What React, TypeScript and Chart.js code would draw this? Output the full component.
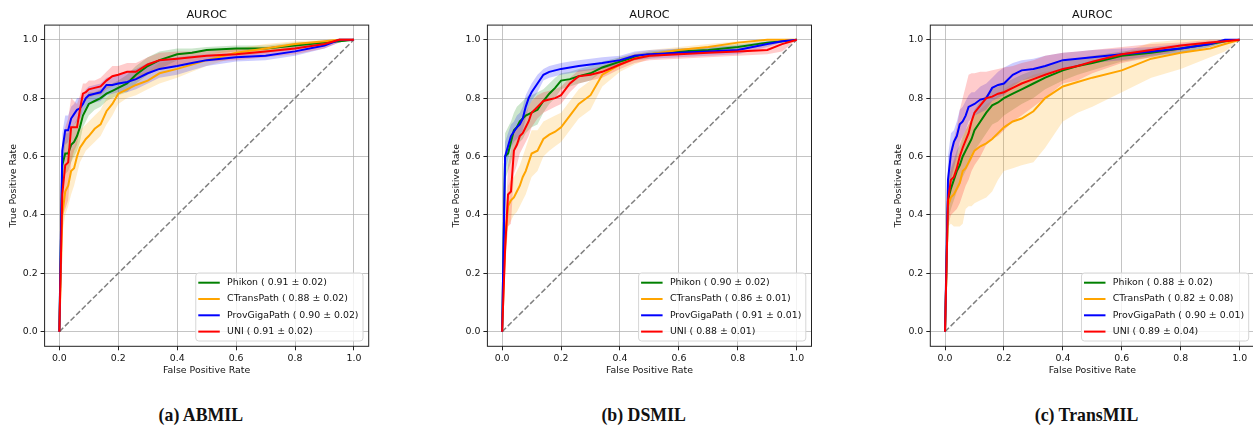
import { useEffect, useRef } from 'react';
import { Chart, registerables } from 'chart.js';

Chart.register(...registerables);

// ---------- data ----------
const FPR = [0, 0.01, 0.02, 0.03, 0.04, 0.05, 0.06, 0.07, 0.08, 0.09, 0.10, 0.12, 0.14, 0.16, 0.18, 0.20, 0.23, 0.26, 0.30, 0.34, 0.40, 0.45, 0.50, 0.60, 0.70, 0.80, 0.90, 0.95, 1.0];
const TICKS = [0, 0.2, 0.4, 0.6, 0.8, 1.0];
const MODELS = ['Phikon', 'CTransPath', 'ProvGigaPath', 'UNI'];
const CAPTIONS = ['(a) ABMIL', '(b) DSMIL', '(c) TransMIL'];

const ABMIL_AUC = [0.91, 0.88, 0.90, 0.91];
const ABMIL_STD = [0.02, 0.02, 0.02, 0.02];
const DSMIL_AUC = [0.90, 0.86, 0.91, 0.88];
const DSMIL_STD = [0.02, 0.01, 0.01, 0.01];
const TRANSMIL_AUC = [0.88, 0.82, 0.90, 0.89];
const TRANSMIL_STD = [0.02, 0.08, 0.01, 0.04];

// ABMIL
const ABMIL_PHIKON = [0, 0.57, 0.61, 0.61, 0.64, 0.65, 0.67, 0.70, 0.74, 0.76, 0.78, 0.79, 0.80, 0.815, 0.825, 0.835, 0.85, 0.88, 0.91, 0.93, 0.95, 0.955, 0.965, 0.97, 0.97, 0.98, 0.99, 0.995, 1.0];
const ABMIL_PHIKON_LO = [0, 0.50, 0.54, 0.55, 0.58, 0.60, 0.62, 0.65, 0.70, 0.72, 0.74, 0.76, 0.77, 0.79, 0.80, 0.81, 0.82, 0.85, 0.88, 0.90, 0.93, 0.94, 0.95, 0.96, 0.96, 0.97, 0.985, 0.99, 1.0];
const ABMIL_PHIKON_HI = [0, 0.64, 0.68, 0.68, 0.70, 0.71, 0.73, 0.76, 0.78, 0.80, 0.82, 0.82, 0.83, 0.84, 0.85, 0.86, 0.88, 0.91, 0.94, 0.96, 0.97, 0.97, 0.975, 0.98, 0.98, 0.99, 0.995, 1.0, 1.0];
const ABMIL_CTRANS = [0, 0.40, 0.48, 0.50, 0.55, 0.56, 0.60, 0.63, 0.645, 0.66, 0.67, 0.695, 0.71, 0.755, 0.78, 0.815, 0.83, 0.845, 0.86, 0.885, 0.90, 0.915, 0.93, 0.955, 0.97, 0.985, 0.995, 1.0, 1.0];
const ABMIL_CTRANS_LO = [0, 0.33, 0.40, 0.43, 0.47, 0.50, 0.54, 0.58, 0.60, 0.62, 0.63, 0.65, 0.67, 0.71, 0.74, 0.78, 0.80, 0.81, 0.83, 0.85, 0.87, 0.89, 0.91, 0.94, 0.955, 0.975, 0.99, 0.995, 1.0];
const ABMIL_CTRANS_HI = [0, 0.47, 0.56, 0.58, 0.62, 0.63, 0.66, 0.69, 0.70, 0.71, 0.72, 0.74, 0.76, 0.80, 0.82, 0.85, 0.86, 0.88, 0.89, 0.92, 0.93, 0.94, 0.95, 0.97, 0.985, 0.995, 1.0, 1.0, 1.0];
const ABMIL_PROV = [0, 0.62, 0.69, 0.69, 0.73, 0.745, 0.76, 0.765, 0.78, 0.80, 0.81, 0.815, 0.82, 0.845, 0.845, 0.85, 0.855, 0.865, 0.885, 0.90, 0.91, 0.92, 0.93, 0.94, 0.945, 0.96, 0.98, 1.0, 1.0];
const ABMIL_PROV_LO = [0, 0.56, 0.64, 0.65, 0.69, 0.71, 0.72, 0.73, 0.75, 0.77, 0.78, 0.785, 0.79, 0.81, 0.815, 0.82, 0.82, 0.83, 0.85, 0.87, 0.88, 0.895, 0.91, 0.925, 0.93, 0.945, 0.97, 0.99, 1.0];
const ABMIL_PROV_HI = [0, 0.68, 0.74, 0.74, 0.77, 0.78, 0.80, 0.80, 0.81, 0.83, 0.84, 0.845, 0.85, 0.87, 0.875, 0.88, 0.89, 0.90, 0.92, 0.93, 0.94, 0.945, 0.95, 0.955, 0.96, 0.975, 0.99, 1.0, 1.0];
const ABMIL_UNI = [0, 0.47, 0.57, 0.58, 0.70, 0.70, 0.70, 0.76, 0.815, 0.82, 0.83, 0.835, 0.84, 0.86, 0.875, 0.88, 0.89, 0.89, 0.915, 0.93, 0.935, 0.94, 0.945, 0.95, 0.96, 0.97, 0.985, 1.0, 1.0];
const ABMIL_UNI_LO = [0, 0.39, 0.42, 0.45, 0.58, 0.62, 0.64, 0.71, 0.78, 0.79, 0.80, 0.81, 0.81, 0.83, 0.84, 0.85, 0.86, 0.86, 0.89, 0.90, 0.91, 0.92, 0.925, 0.93, 0.94, 0.95, 0.97, 0.99, 1.0];
const ABMIL_UNI_HI = [0, 0.55, 0.70, 0.73, 0.80, 0.79, 0.78, 0.81, 0.85, 0.85, 0.86, 0.86, 0.87, 0.89, 0.91, 0.91, 0.92, 0.92, 0.94, 0.955, 0.96, 0.96, 0.965, 0.97, 0.975, 0.985, 0.995, 1.0, 1.0];

// DSMIL
const DSMIL_PHIKON = [0, 0.60, 0.61, 0.65, 0.69, 0.70, 0.72, 0.73, 0.74, 0.745, 0.75, 0.76, 0.79, 0.815, 0.835, 0.86, 0.865, 0.875, 0.885, 0.905, 0.925, 0.94, 0.95, 0.96, 0.965, 0.975, 0.99, 0.995, 1.0];
const DSMIL_PHIKON_LO = [0, 0.52, 0.55, 0.58, 0.62, 0.63, 0.65, 0.66, 0.68, 0.69, 0.70, 0.71, 0.75, 0.78, 0.80, 0.83, 0.84, 0.85, 0.86, 0.89, 0.91, 0.93, 0.94, 0.95, 0.955, 0.965, 0.98, 0.99, 1.0];
const DSMIL_PHIKON_HI = [0, 0.68, 0.70, 0.72, 0.75, 0.77, 0.78, 0.79, 0.80, 0.81, 0.81, 0.82, 0.83, 0.85, 0.87, 0.885, 0.89, 0.90, 0.91, 0.925, 0.94, 0.95, 0.96, 0.97, 0.975, 0.985, 0.995, 1.0, 1.0];
const DSMIL_CTRANS = [0, 0.30, 0.43, 0.45, 0.46, 0.48, 0.50, 0.53, 0.55, 0.58, 0.61, 0.62, 0.66, 0.675, 0.685, 0.70, 0.74, 0.78, 0.81, 0.88, 0.915, 0.935, 0.95, 0.965, 0.975, 0.99, 1.0, 1.0, 1.0];
const DSMIL_CTRANS_LO = [0, 0.22, 0.36, 0.38, 0.40, 0.41, 0.43, 0.45, 0.47, 0.50, 0.53, 0.55, 0.60, 0.62, 0.635, 0.65, 0.69, 0.73, 0.76, 0.84, 0.89, 0.915, 0.935, 0.955, 0.965, 0.98, 0.995, 1.0, 1.0];
const DSMIL_CTRANS_HI = [0, 0.38, 0.50, 0.52, 0.53, 0.55, 0.57, 0.60, 0.63, 0.66, 0.69, 0.69, 0.72, 0.73, 0.74, 0.75, 0.79, 0.83, 0.86, 0.91, 0.94, 0.955, 0.965, 0.975, 0.985, 0.995, 1.0, 1.0, 1.0];
const DSMIL_PROV = [0, 0.60, 0.635, 0.67, 0.685, 0.70, 0.71, 0.73, 0.77, 0.80, 0.82, 0.85, 0.88, 0.89, 0.895, 0.90, 0.905, 0.91, 0.915, 0.92, 0.93, 0.945, 0.95, 0.955, 0.96, 0.965, 0.985, 0.995, 1.0];
const DSMIL_PROV_LO = [0, 0.55, 0.59, 0.63, 0.65, 0.66, 0.67, 0.69, 0.73, 0.77, 0.79, 0.82, 0.86, 0.87, 0.875, 0.88, 0.885, 0.89, 0.895, 0.90, 0.915, 0.93, 0.935, 0.94, 0.945, 0.95, 0.975, 0.99, 1.0];
const DSMIL_PROV_HI = [0, 0.65, 0.68, 0.71, 0.72, 0.74, 0.75, 0.77, 0.81, 0.83, 0.85, 0.88, 0.90, 0.91, 0.915, 0.92, 0.925, 0.93, 0.935, 0.94, 0.945, 0.96, 0.965, 0.97, 0.975, 0.98, 0.995, 1.0, 1.0];
const DSMIL_UNI = [0, 0.28, 0.47, 0.48, 0.62, 0.64, 0.67, 0.68, 0.70, 0.72, 0.75, 0.77, 0.79, 0.795, 0.80, 0.81, 0.85, 0.875, 0.88, 0.89, 0.915, 0.935, 0.945, 0.95, 0.955, 0.96, 0.965, 0.985, 1.0];
const DSMIL_UNI_LO = [0, 0.22, 0.36, 0.37, 0.54, 0.57, 0.61, 0.63, 0.65, 0.67, 0.70, 0.73, 0.75, 0.76, 0.77, 0.78, 0.82, 0.85, 0.86, 0.87, 0.90, 0.92, 0.93, 0.935, 0.94, 0.945, 0.95, 0.96, 1.0];
const DSMIL_UNI_HI = [0, 0.36, 0.57, 0.62, 0.69, 0.70, 0.72, 0.73, 0.75, 0.77, 0.79, 0.81, 0.82, 0.825, 0.83, 0.84, 0.87, 0.895, 0.90, 0.91, 0.93, 0.95, 0.955, 0.96, 0.965, 0.97, 0.98, 0.995, 1.0];

// TransMIL
const TRANSMIL_PHIKON = [0, 0.45, 0.49, 0.52, 0.55, 0.57, 0.60, 0.62, 0.64, 0.66, 0.69, 0.72, 0.75, 0.775, 0.785, 0.80, 0.815, 0.83, 0.85, 0.87, 0.895, 0.91, 0.92, 0.945, 0.955, 0.97, 0.985, 0.995, 1.0];
const TRANSMIL_PHIKON_LO = [0, 0.38, 0.42, 0.45, 0.48, 0.50, 0.53, 0.55, 0.57, 0.59, 0.62, 0.65, 0.68, 0.71, 0.72, 0.74, 0.76, 0.78, 0.80, 0.83, 0.86, 0.88, 0.895, 0.925, 0.94, 0.955, 0.975, 0.99, 1.0];
const TRANSMIL_PHIKON_HI = [0, 0.52, 0.56, 0.59, 0.62, 0.64, 0.67, 0.69, 0.71, 0.73, 0.76, 0.79, 0.81, 0.83, 0.84, 0.85, 0.865, 0.88, 0.895, 0.91, 0.925, 0.935, 0.945, 0.96, 0.97, 0.98, 0.99, 1.0, 1.0];
const TRANSMIL_CTRANS = [0, 0.43, 0.46, 0.47, 0.49, 0.51, 0.55, 0.56, 0.58, 0.60, 0.62, 0.635, 0.645, 0.66, 0.68, 0.70, 0.72, 0.73, 0.755, 0.80, 0.84, 0.855, 0.87, 0.895, 0.935, 0.955, 0.97, 0.985, 1.0];
const TRANSMIL_CTRANS_LO = [0, 0.36, 0.37, 0.36, 0.36, 0.36, 0.37, 0.42, 0.43, 0.43, 0.44, 0.45, 0.46, 0.48, 0.52, 0.55, 0.56, 0.57, 0.58, 0.63, 0.72, 0.75, 0.77, 0.82, 0.87, 0.90, 0.94, 0.96, 1.0];
const TRANSMIL_CTRANS_HI = [0, 0.50, 0.55, 0.58, 0.60, 0.62, 0.66, 0.69, 0.71, 0.73, 0.74, 0.76, 0.78, 0.79, 0.81, 0.83, 0.85, 0.86, 0.88, 0.89, 0.90, 0.91, 0.925, 0.955, 0.99, 1.0, 1.0, 1.0, 1.0];
const TRANSMIL_PROV = [0, 0.52, 0.61, 0.65, 0.67, 0.71, 0.72, 0.74, 0.77, 0.775, 0.78, 0.795, 0.80, 0.835, 0.845, 0.85, 0.88, 0.895, 0.90, 0.91, 0.93, 0.935, 0.94, 0.95, 0.96, 0.97, 0.985, 1.0, 1.0];
const TRANSMIL_PROV_LO = [0, 0.44, 0.52, 0.56, 0.60, 0.65, 0.67, 0.69, 0.72, 0.73, 0.74, 0.75, 0.76, 0.79, 0.80, 0.81, 0.84, 0.86, 0.87, 0.88, 0.90, 0.91, 0.92, 0.93, 0.945, 0.955, 0.975, 0.99, 1.0];
const TRANSMIL_PROV_HI = [0, 0.60, 0.68, 0.69, 0.72, 0.76, 0.77, 0.79, 0.81, 0.82, 0.82, 0.84, 0.85, 0.87, 0.89, 0.905, 0.92, 0.93, 0.935, 0.945, 0.955, 0.96, 0.965, 0.97, 0.975, 0.985, 0.995, 1.0, 1.0];
const TRANSMIL_UNI = [0, 0.45, 0.52, 0.53, 0.56, 0.60, 0.63, 0.655, 0.68, 0.72, 0.75, 0.775, 0.80, 0.805, 0.815, 0.82, 0.835, 0.85, 0.865, 0.88, 0.90, 0.91, 0.925, 0.95, 0.965, 0.98, 0.99, 0.995, 1.0];
const TRANSMIL_UNI_LO = [0, 0.36, 0.40, 0.41, 0.42, 0.44, 0.47, 0.50, 0.52, 0.55, 0.57, 0.60, 0.64, 0.66, 0.67, 0.69, 0.72, 0.74, 0.77, 0.80, 0.85, 0.86, 0.885, 0.92, 0.94, 0.965, 0.98, 0.99, 1.0];
const TRANSMIL_UNI_HI = [0, 0.55, 0.63, 0.66, 0.70, 0.76, 0.80, 0.84, 0.88, 0.885, 0.885, 0.89, 0.89, 0.895, 0.90, 0.905, 0.91, 0.92, 0.93, 0.945, 0.955, 0.96, 0.965, 0.975, 0.985, 0.99, 1.0, 1.0, 1.0];

// ---------- styling ----------
const COLORS = ['#008000', '#ffa500', '#0000ff', '#ff0000'];
const BAND_COLORS = ['rgba(0,128,0,0.2)', 'rgba(255,165,0,0.2)', 'rgba(0,0,255,0.2)', 'rgba(255,0,0,0.2)'];
const FONT = '"DejaVu Sans", sans-serif';
const FS = 9.4;

const PANELS = [
  { caption: CAPTIONS[0], auc: ABMIL_AUC, std: ABMIL_STD,
    mean: [ABMIL_PHIKON, ABMIL_CTRANS, ABMIL_PROV, ABMIL_UNI],
    lo: [ABMIL_PHIKON_LO, ABMIL_CTRANS_LO, ABMIL_PROV_LO, ABMIL_UNI_LO],
    hi: [ABMIL_PHIKON_HI, ABMIL_CTRANS_HI, ABMIL_PROV_HI, ABMIL_UNI_HI] },
  { caption: CAPTIONS[1], auc: DSMIL_AUC, std: DSMIL_STD,
    mean: [DSMIL_PHIKON, DSMIL_CTRANS, DSMIL_PROV, DSMIL_UNI],
    lo: [DSMIL_PHIKON_LO, DSMIL_CTRANS_LO, DSMIL_PROV_LO, DSMIL_UNI_LO],
    hi: [DSMIL_PHIKON_HI, DSMIL_CTRANS_HI, DSMIL_PROV_HI, DSMIL_UNI_HI] },
  { caption: CAPTIONS[2], auc: TRANSMIL_AUC, std: TRANSMIL_STD,
    mean: [TRANSMIL_PHIKON, TRANSMIL_CTRANS, TRANSMIL_PROV, TRANSMIL_UNI],
    lo: [TRANSMIL_PHIKON_LO, TRANSMIL_CTRANS_LO, TRANSMIL_PROV_LO, TRANSMIL_UNI_LO],
    hi: [TRANSMIL_PHIKON_HI, TRANSMIL_CTRANS_HI, TRANSMIL_PROV_HI, TRANSMIL_UNI_HI] },
];

// layout (page pixels)
const CHART_LEFT = [44.6, 487.4, 930.3];
const CANVAS_LEFT = [0, 443, 886];
const CANVAS_W = 400;
const CANVAS_H = 400;
const AREA_W = 324.1;
const AREA_TOP = 25.1;
const AREA_BOTTOM = 346.3;

const pts = (ys: number[]) => ys.map((y, i) => ({ x: FPR[i], y }));

function makeDecor(panel: any) {
  return {
    id: 'decor',
    afterDraw(chart: any) {
      const { ctx, chartArea: a } = chart;
      ctx.save();
      // spines
      ctx.strokeStyle = '#222';
      ctx.lineWidth = 1;
      ctx.strokeRect(a.left, a.top, a.right - a.left, a.bottom - a.top);
      // title
      ctx.fillStyle = '#111';
      ctx.textAlign = 'center';
      ctx.textBaseline = 'middle';
      ctx.font = `${FS * 1.2}px ${FONT}`;
      const cx = (a.left + a.right) / 2;
      ctx.fillText('AUROC', cx, a.top - 10.1);
      ctx.font = `${FS}px ${FONT}`;
      ctx.fillText('False Positive Rate', cx, a.bottom + 24);
      ctx.save();
      ctx.translate(a.left - 31.3, (a.top + a.bottom) / 2);
      ctx.rotate(-Math.PI / 2);
      ctx.fillText('True Positive Rate', 0, 0);
      ctx.restore();
      // legend
      const labels = MODELS.map((m, k) => `${m} ( ${panel.auc[k].toFixed(2)} ± ${panel.std[k].toFixed(2)})`);
      const maxW = Math.max(...labels.map((l) => ctx.measureText(l).width));
      const w = 31.3 + maxW + 4.5;
      const h = 68;
      const right = a.right - 5.7;
      const bottom = a.bottom - 5.3;
      const left = right - w;
      const top = bottom - h;
      ctx.beginPath();
      ctx.roundRect(left, top, w, h, 3);
      ctx.fillStyle = 'rgba(255,255,255,0.8)';
      ctx.fill();
      ctx.strokeStyle = '#d6d6d6';
      ctx.lineWidth = 1;
      ctx.stroke();
      ctx.textAlign = 'left';
      labels.forEach((l, k) => {
        const cy = top + 9.7 + k * 16.3;
        ctx.beginPath();
        ctx.strokeStyle = COLORS[k];
        ctx.lineWidth = 2;
        ctx.moveTo(left + 2.5, cy);
        ctx.lineTo(left + 24, cy);
        ctx.stroke();
        ctx.fillStyle = '#111';
        ctx.fillText(l, left + 31.3, cy);
      });
      ctx.restore();
    },
  };
}

function Panel({ index }: { index: number }) {
  const ref = useRef<HTMLCanvasElement>(null);
  useEffect(() => {
    const panel = PANELS[index];
    const yw = CHART_LEFT[index] - CANVAS_LEFT[index];
    const padRight = CANVAS_W - yw - AREA_W;
    const datasets: any[] = [];
    // bands: lo at even index, hi fills to lo
    const bandOrder = [13, 12, 11, 10];
    for (let k = 0; k < 4; k++) {
      const loIdx = datasets.length;
      datasets.push({
        data: pts(panel.lo[k]), borderWidth: 0, pointRadius: 0, fill: false,
        borderColor: 'rgba(0,0,0,0)', order: bandOrder[k],
      });
      datasets.push({
        data: pts(panel.hi[k]), borderWidth: 0, pointRadius: 0, fill: loIdx,
        borderColor: 'rgba(0,0,0,0)', backgroundColor: BAND_COLORS[k], order: bandOrder[k],
      });
    }
    datasets.push({
      data: [{ x: 0, y: 0 }, { x: 1, y: 1 }], borderColor: '#808080', borderWidth: 1.5,
      borderDash: [5.5, 2.4], pointRadius: 0, fill: false, order: 5,
    });
    const lineOrder = [3, 2, 1, 0];
    for (let k = 0; k < 4; k++) {
      datasets.push({
        label: MODELS[k], data: pts(panel.mean[k]), borderColor: COLORS[k], borderWidth: 2,
        pointRadius: 0, fill: false, order: lineOrder[k], tension: 0,
      });
    }
    const tickCfg = (axis: string) => ({
      type: 'linear',
      min: -0.05,
      max: 1.05,
      afterBuildTicks: (s: any) => { s.ticks = TICKS.map((v) => ({ value: v })); },
      afterFit: (s: any) => {
        if (axis === 'x') s.height = CANVAS_H - AREA_BOTTOM;
        else s.width = yw;
      },
      grid: {
        color: 'rgba(176,176,176,0.75)', lineWidth: 1, tickLength: 4, tickColor: '#222', drawTicks: true,
      },
      border: { display: false },
      ticks: {
        autoSkip: false, maxRotation: 0, padding: 3, color: '#111',
        font: { family: FONT, size: FS },
        callback: (v: any) => Number(v).toFixed(1),
      },
    });
    const chart = new Chart(ref.current as HTMLCanvasElement, {
      type: 'line',
      data: { datasets },
      options: {
        animation: false,
        responsive: false,
        maintainAspectRatio: false,
        devicePixelRatio: 1,
        parsing: true,
        layout: { padding: { left: 0, top: AREA_TOP, right: padRight, bottom: 0 } },
        plugins: { legend: { display: false }, title: { display: false }, tooltip: { enabled: false } },
        scales: { x: tickCfg('x') as any, y: tickCfg('y') as any },
      },
      plugins: [makeDecor(panel)],
    } as any);
    return () => chart.destroy();
  }, [index]);
  return (
    <canvas
      ref={ref}
      width={CANVAS_W}
      height={CANVAS_H}
      style={{ position: 'absolute', left: CANVAS_LEFT[index], top: 0, width: CANVAS_W, height: CANVAS_H }}
    />
  );
}

export default function App() {
  return (
    <div style={{ position: 'absolute', left: 0, top: 0, width: 1253, height: 428, overflow: 'hidden', background: '#fff' }}>
      {PANELS.map((p, i) => (
        <Panel key={i} index={i} />
      ))}
      {PANELS.map((p, i) => {
        const cx = CHART_LEFT[i] + AREA_W / 2 - 5.8;
        return (
          <div
            key={'c' + i}
            style={{
              position: 'absolute', left: cx - 150, width: 300, top: 404, height: 22, lineHeight: '22px',
              textAlign: 'center', fontFamily: '"Liberation Serif", serif', fontWeight: 'bold', fontSize: 17.8, color: '#111',
            }}
          >
            {p.caption}
          </div>
        );
      })}
    </div>
  );
}
